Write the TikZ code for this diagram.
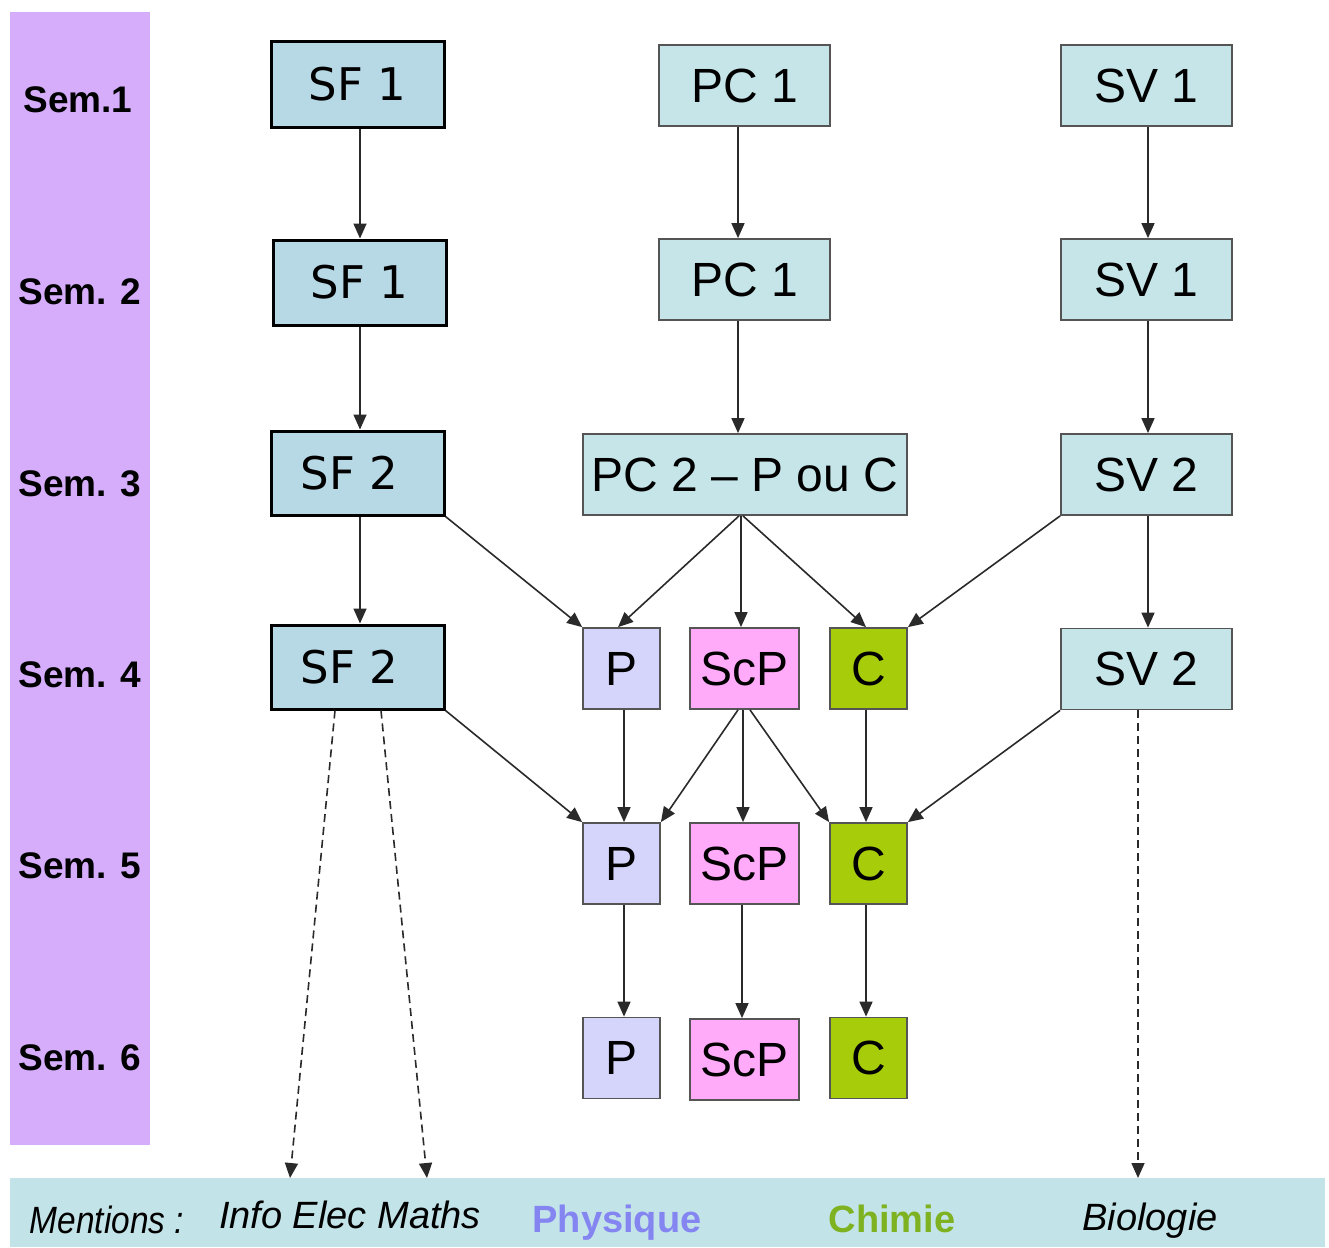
\documentclass[tikz,border=0pt]{standalone}
\usepackage{fontspec}
\setmainfont{Liberation Sans}
\newfontfamily\dejavu{DejaVu Sans}
\usetikzlibrary{arrows.meta}
\definecolor{sidebar}{HTML}{D5ADFA}
\definecolor{bottombar}{HTML}{C2E4E8}
\definecolor{sffill}{HTML}{B7D8E5}
\definecolor{boxfill}{HTML}{C5E5E9}
\definecolor{pfill}{HTML}{D5D5FB}
\definecolor{scpfill}{HTML}{FFABFA}
\definecolor{cfill}{HTML}{A7CC0A}
\definecolor{physcol}{HTML}{8585F2}
\definecolor{chimcol}{HTML}{7FB221}
\definecolor{boxline}{HTML}{555555}
\definecolor{arrowcol}{HTML}{2A2A2A}
\tikzset{
  sfbox/.style={draw=black, line width=3pt, fill=sffill, inner sep=0pt,
    font=\dejavu\fontsize{45}{52}\selectfont},
  plainbox/.style={draw=boxline, line width=1.8pt, fill=boxfill, inner sep=0pt,
    font=\fontsize{48}{54}\selectfont},
  pbox/.style={plainbox, fill=pfill, minimum width=77pt, minimum height=81pt},
  scpbox/.style={plainbox, fill=scpfill, minimum width=109pt, minimum height=81pt},
  cbox/.style={plainbox, fill=cfill, minimum width=77pt, minimum height=81pt},
  semlabel/.style={font=\bfseries\fontsize{37}{44}\selectfont, inner sep=0pt},
  conn/.style={draw=arrowcol, line width=1.6pt, -{Triangle[length=15pt,width=13pt]}},
  dconn/.style={conn, dash pattern=on 8pt off 5pt},
  mention/.style={font=\fontsize{38}{44}\selectfont, inner sep=0pt, anchor=base}
}
\begin{document}
\begin{tikzpicture}[x=1pt,y=-1pt]
\useasboundingbox[fill=white] (0,0) rectangle (1329,1247);
% bars
\fill[sidebar] (10,12) rectangle (150,1145);
\fill[bottombar] (10,1178) rectangle (1325,1247);
% semester labels
\node[semlabel] (s1) at (78,100) {Sem.1};
\node[semlabel] (s2) at (80,292) {Sem. 2};
\node[semlabel] (s3) at (80,484) {Sem. 3};
\node[semlabel] (s4) at (80,675) {Sem. 4};
\node[semlabel] (s5) at (80,866) {Sem. 5};
\node[semlabel] (s6) at (80,1058) {Sem. 6};
% SF column
\node[sfbox, minimum width=173pt, minimum height=85pt] (sf1a) at (357.5,84.5) {SF 1};
\node[sfbox, minimum width=173pt, minimum height=85pt] (sf1b) at (359.5,282.5) {SF 1};
\node[sfbox, minimum width=173pt, minimum height=84pt] (sf2a) at (357.5,473) {\hspace*{-16pt}SF 2};
\node[sfbox, minimum width=173pt, minimum height=84pt] (sf2b) at (357.5,667) {\hspace*{-16pt}SF 2};
% PC column
\node[plainbox, minimum width=171pt, minimum height=81pt] (pc1a) at (744.5,85.5) {PC 1};
\node[plainbox, minimum width=171pt, minimum height=81pt] (pc1b) at (744.5,279.5) {PC 1};
\node[plainbox, minimum width=324pt, minimum height=81pt] (pc2) at (745,474.5) {PC 2 -- P ou C};
% SV column
\node[plainbox, minimum width=171pt, minimum height=81pt] (sv1a) at (1146.5,85.5) {SV 1};
\node[plainbox, minimum width=171pt, minimum height=81pt] (sv1b) at (1146.5,279.5) {SV 1};
\node[plainbox, minimum width=171pt, minimum height=81pt] (sv2a) at (1146.5,474.5) {SV 2};
\node[plainbox, minimum width=171pt, minimum height=81pt] (sv2b) at (1146.5,669) {SV 2};
% P / ScP / C
\node[pbox] (p4) at (621.5,668.5) {P};
\node[scpbox] (scp4) at (744.5,668.5) {ScP};
\node[cbox] (c4) at (868.5,668.5) {C};
\node[pbox] (p5) at (621.5,863.5) {P};
\node[scpbox] (scp5) at (744.5,863.5) {ScP};
\node[cbox] (c5) at (868.5,863.5) {C};
\node[pbox] (p6) at (621.5,1058) {P};
\node[scpbox] (scp6) at (744.5,1059.5) {ScP};
\node[cbox] (c6) at (868.5,1058) {C};
% bottom texts
\coordinate (m1) at (290,1178);
\coordinate (m2) at (427,1178);
\coordinate (m3) at (1138,1178);
\node[mention, font=\itshape\fontsize{38}{44}\selectfont, xscale=0.88] (ment) at (107,1233) {Mentions :};
\node[mention, font=\itshape\fontsize{38}{44}\selectfont] (iem) at (350,1228) {Info Elec Maths};
\node[mention, font=\bfseries\fontsize{38}{44}\selectfont, text=physcol] (phys) at (617,1232) {Physique};
\node[mention, font=\bfseries\fontsize{38}{44}\selectfont, text=chimcol] (chim) at (892,1232) {Chimie};
\node[mention, font=\itshape\fontsize{38}{44}\selectfont] (bio) at (1150,1230) {Biologie};
% connectors
\draw[conn] (sf1a.south -| 360,0) -- (sf1b.north -| 360,0);
\draw[conn] (sf1b.south -| 360,0) -- (sf2a.north -| 360,0);
\draw[conn] (sf2a.south -| 360,0) -- (sf2b.north -| 360,0);
\draw[conn] (sf2a.south east) -- (p4.north west);
\draw[conn] (sf2b.south east) -- (p5.north west);
\draw[conn] (pc1a.south -| 738,0) -- (pc1b.north -| 738,0);
\draw[conn] (pc1b.south -| 738,0) -- (pc2.north -| 738,0);
\draw[conn] (pc2.south -| 739,0) -- (p4.north -| 618,0);
\draw[conn] (pc2.south -| 741,0) -- (scp4.north -| 741,0);
\draw[conn] (pc2.south -| 743,0) -- (c4.north -| 866,0);
\draw[conn] (sv2a.south west) -- (c4.north east);
\draw[conn] (sv1a.south -| 1148,0) -- (sv1b.north -| 1148,0);
\draw[conn] (sv1b.south -| 1148,0) -- (sv2a.north -| 1148,0);
\draw[conn] (sv2a.south -| 1148,0) -- (sv2b.north -| 1148,0);
\draw[conn] (p4.south -| 624,0) -- (p5.north -| 624,0);
\draw[conn] (scp4.south -| 738,0) -- (p5.north east);
\draw[conn] (scp4.south -| 743,0) -- (scp5.north -| 743,0);
\draw[conn] (scp4.south -| 750,0) -- (c5.north west);
\draw[conn] (c4.south -| 866,0) -- (c5.north -| 866,0);
\draw[conn] (sv2b.south west) -- (c5.north east);
\draw[conn] (p5.south -| 624,0) -- (p6.north -| 624,0);
\draw[conn] (scp5.south -| 742,0) -- (scp6.north -| 742,0);
\draw[conn] (c5.south -| 866,0) -- (c6.north -| 866,0);
\draw[dconn] (sf2b.south -| 335,0) -- (m1);
\draw[dconn] (sf2b.south -| 381,0) -- (m2);
\draw[dconn] (sv2b.south -| 1138,0) -- (m3);
\end{tikzpicture}
\end{document}
